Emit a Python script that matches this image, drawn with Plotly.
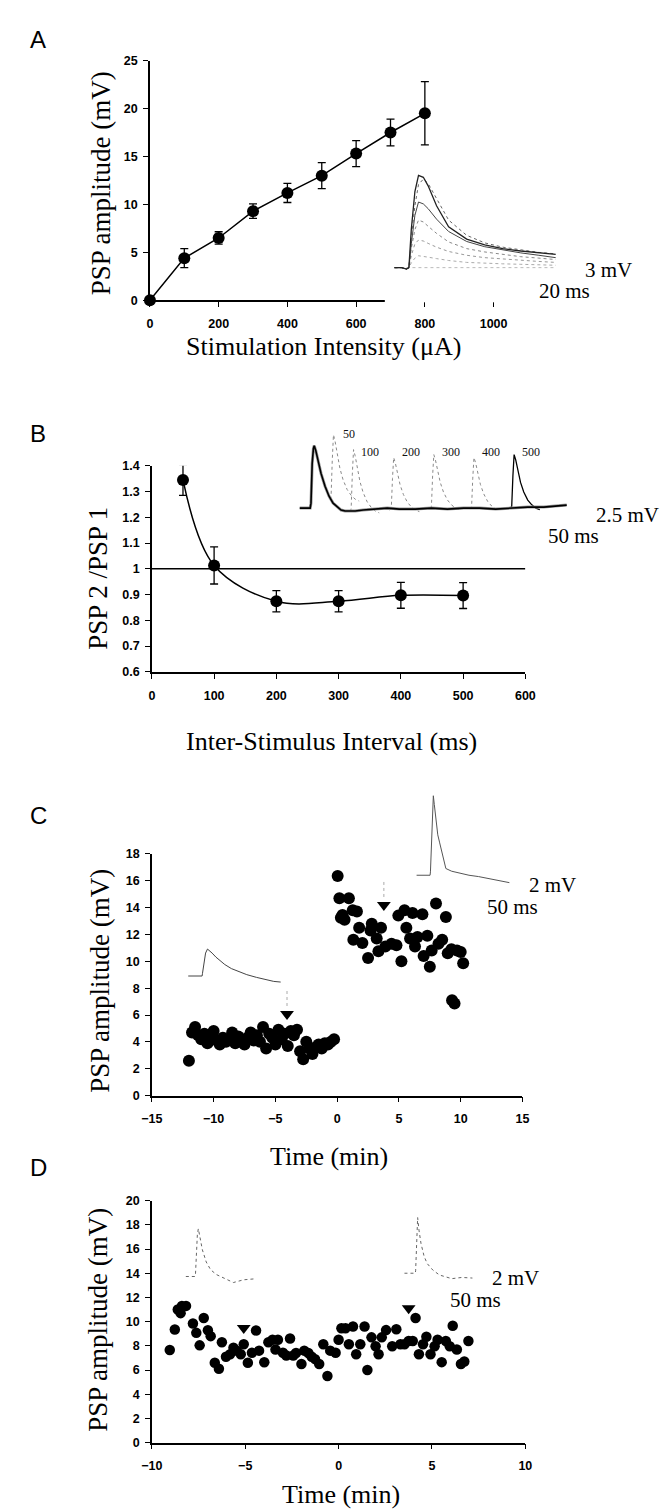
import plotly.graph_objects as go

W, H = 670, 1509

# ---------------- Panel A data ----------------
stim_uA = [0, 100, 200, 300, 400, 500, 600, 700, 800]
psp_amp_mV = [0.0, 4.4, 6.5, 9.3, 11.2, 13.0, 15.3, 17.5, 19.5]
psp_amp_err = [0.0, 1.0, 0.65, 0.75, 1.0, 1.35, 1.35, 1.4, 3.3]
a_ticks_x = [0, 200, 400, 600, 800, 1000]
a_ticks_y = [0, 5, 10, 15, 20, 25]

# inset A: PSP traces (ms, mV)
a_trace_t = [0, 6, 10, 12, 14, 17, 20, 24, 28, 35, 45, 60, 75, 90, 105, 120, 134]
a_trace_1 = [0, 0, -0.3, 0, 8, 16, 19.4, 19.0, 17.2, 13.0, 8.6, 6.0, 4.8, 4.0, 3.5, 3.1, 2.8]
a_trace_2 = [0, 0, -0.3, 0, 6, 13, 17.5, 18.6, 17.7, 14.5, 10.0, 6.8, 5.2, 4.3, 3.7, 3.2, 2.9]
a_trace_3 = [0, 0, -0.3, 0, 5, 11, 13.8, 13.4, 12.4, 10.2, 7.6, 5.5, 4.4, 3.7, 3.1, 2.6, 2.1]
a_trace_4 = [0, 0, -0.3, 0, 4, 8, 10.0, 9.6, 8.7, 7.2, 5.4, 4.0, 3.3, 2.8, 2.3, 2.0, 1.7]
a_trace_5 = [0, 0, -0.3, 0, 2.5, 5, 5.8, 5.6, 5.1, 4.3, 3.4, 2.6, 2.1, 1.8, 1.5, 1.3, 1.1]
a_trace_6 = [0, 0, -0.3, 0, 1, 2, 2.5, 2.4, 2.2, 1.9, 1.5, 1.1, 0.9, 0.8, 0.7, 0.6, 0.5]
a_trace_7 = [0, 0, 0, 0, 0, 0, 0, 0, 0, 0, 0, 0, 0, 0, 0, 0, 0]

# ---------------- Panel B data ----------------
isi_ms = [50, 100, 200, 300, 400, 500]
ratio = [1.345, 1.013, 0.874, 0.874, 0.897, 0.896]
ratio_err = [0.06, 0.072, 0.041, 0.041, 0.05, 0.05]
b_ticks_x = [0, 100, 200, 300, 400, 500, 600]
b_ticks_y = [0.6, 0.7, 0.8, 0.9, 1.0, 1.1, 1.2, 1.3, 1.4]
b_tick_text = ["0.6", "0.7", "0.8", "0.9", "1", "1.1", "1.2", "1.3", "1.4"]
ref_line_x = [0, 600]
ref_line_y = [1, 1]

# inset B: paired-pulse traces (ms, mV)
pp_first_t = [-28, -2, 0, 3, 6, 8, 12, 18, 25, 35, 45, 55, 65, 75, 85, 95, 110, 130, 160, 190,
              220, 260, 300, 340, 380, 420, 460, 500, 540, 580, 620, 637]
pp_first_v = [0, 0, 0.5, 4.5, 6.0, 6.3, 5.8, 4.7, 3.5, 2.2, 1.2, 0.5, 0.1, -0.2, -0.3, -0.3,
              -0.3, -0.2, -0.1, 0.0, -0.1, -0.1, 0.0, -0.1, 0.0, 0.0, -0.1, 0.0, 0.1, 0.1, 0.2, 0.3]
pp_isi_ms = [50, 100, 200, 300, 400, 500]
pp_isi_label = ["50", "100", "200", "300", "400", "500"]
pp_peak_mV = [7.4, 5.9, 5.1, 5.4, 5.1, 5.4]
pp_base_mV = [0.9, -0.3, -0.2, 0.0, -0.1, 0.0]
psp_shape_dt = [-4, 0, 3, 6, 10, 15, 22, 30, 40, 50, 60, 70]
psp_shape_norm = [0, 0.03, 0.6, 1.0, 0.9, 0.7, 0.48, 0.3, 0.15, 0.06, 0.0, -0.03]

# ---------------- Panel C data ----------------
c_pre_min = [-12.0, -11.75, -11.5, -11.25, -11.0, -10.75, -10.5, -10.25, -10.0, -9.75, -9.5,
             -9.25, -9.0, -8.75, -8.5, -8.25, -8.0, -7.75, -7.5, -7.25, -7.0, -6.75, -6.5,
             -6.25, -6.0, -5.75, -5.5, -5.25, -5.0, -4.75, -4.5, -4.25, -4.0, -3.75, -3.5,
             -3.25, -3.0, -2.75, -2.5, -2.25, -2.0, -1.75, -1.5, -1.25, -1.0, -0.75, -0.5, -0.25]
c_pre_mV = [2.6, 4.7, 5.1, 4.5, 4.2, 4.6, 3.9, 4.4, 4.8, 4.1, 3.8, 4.3, 4.0, 4.2, 4.7, 3.9,
            4.4, 4.0, 3.8, 4.3, 4.7, 4.1, 4.5, 4.0, 5.1, 3.5, 4.6, 4.3, 3.8, 4.9, 4.2, 4.6,
            3.7, 4.8, 4.5, 4.9, 3.3, 2.7, 4.0, 3.5, 3.1, 3.6, 3.8, 3.5, 3.9, 3.8, 4.0, 4.2]
c_post_min = [0.04, 0.18, 0.3, 0.43, 0.6, 0.95, 1.26, 1.31, 1.6, 1.78, 2.04, 2.5, 2.7, 2.8,
              3.2, 3.34, 3.55, 3.9, 4.4, 4.8, 4.95, 5.2, 5.45, 5.6, 5.9, 6.1, 6.3, 6.5, 6.9,
              7.0, 7.3, 7.5, 7.65, 8.0, 8.2, 8.5, 8.8, 8.95, 9.25, 9.3, 9.5, 9.7, 10.0, 10.2]
c_post_mV = [16.35, 14.7, 13.25, 13.45, 13.1, 14.7, 13.8, 11.6, 13.7, 12.5, 11.36, 10.25, 12.3,
             12.8, 11.7, 10.75, 12.5, 11.1, 11.3, 11.2, 13.4, 10.0, 13.8, 12.5, 11.7, 13.6, 11.1,
             11.8, 13.5, 10.4, 11.9, 9.6, 10.8, 14.3, 11.3, 11.6, 13.3, 10.6, 10.9, 7.1, 6.85,
             10.8, 10.7, 9.85]
c_arrow_min = [-4.06, 3.78]
c_arrow_mV = [6.07, 14.19]
c_ticks_x = [-15, -10, -5, 0, 5, 10, 15]
c_ticks_y = [0, 2, 4, 6, 8, 10, 12, 14, 16, 18]

# inset C traces (ms, mV)
c1_t = [-37, -1, 0, 4, 8, 13, 18, 25, 35, 45, 58, 75, 95, 115, 140, 166, 185, 203]
c1_v = [0, 0, 0.4, 2.0, 3.4, 4.0, 3.8, 3.4, 2.8, 2.3, 1.7, 1.1, 0.6, 0.2, -0.2, -0.6, -0.8, -0.9]
c2_t = [-36, -1, 0, 3, 6, 7.5, 10, 14, 19, 24, 30, 40, 55, 75, 100, 125, 150, 175, 205]
c2_v = [0, 0, 0.5, 5, 10, 11.8, 10.5, 8, 6, 4.8, 3.2, 1.0, 0.6, 0.3, 0, -0.2, -0.5, -0.8, -1.1]

# ---------------- Panel D data ----------------
d_min = [-9.04, -8.77, -8.61, -8.46, -8.39, -8.17, -7.8, -7.62, -7.44, -7.22, -7.0, -6.85,
         -6.63, -6.41, -6.25, -6.03, -5.81, -5.63, -5.46, -5.24, -5.08, -4.86, -4.64, -4.42,
         -4.26, -3.98, -3.76, -3.54, -3.38, -3.25, -2.98, -2.8, -2.6, -2.43, -2.28, -1.99,
         -1.84, -1.62, -1.44, -1.26, -1.04, -0.82, -0.6, -0.45, -0.16, 0.0, 0.15, 0.37, 0.55,
         0.77, 0.94, 1.16, 1.39, 1.54, 1.76, 1.98, 2.14, 2.31, 2.54, 2.87, 3.09, 3.31, 3.53,
         3.75, 3.97, 4.12, 4.3, 4.52, 4.7, 4.92, 5.14, 5.3, 5.52, 5.74, 5.95, 6.11, 6.33,
         6.55, 6.73, 6.95]
d_mV = [7.65, 9.35, 11.0, 10.7, 11.3, 11.3, 9.84, 9.07, 8.04, 10.3, 9.29, 8.8, 6.6, 6.1, 8.3,
        7.1, 7.3, 7.85, 7.6, 7.3, 8.13, 6.6, 7.43, 9.27, 7.6, 6.64, 8.3, 8.5, 7.7, 8.5, 7.43,
        7.2, 8.6, 7.2, 7.4, 6.5, 7.6, 7.4, 7.1, 6.9, 6.5, 8.13, 5.5, 7.6, 7.43, 8.5, 9.45,
        9.45, 8.13, 9.6, 7.3, 8.13, 9.6, 6.0, 8.7, 7.97, 7.3, 8.7, 9.3, 7.97, 9.37, 8.13, 8.13,
        8.4, 8.4, 10.3, 7.3, 8.13, 8.75, 7.3, 7.97, 8.5, 6.65, 8.4, 7.97, 9.66, 7.7, 6.5, 6.7, 8.4]
d_arrow_min = [-5.08, 3.75]
d_arrow_mV = [9.48, 11.1]
d_ticks_x = [-10, -5, 0, 5, 10]
d_ticks_y = [0, 2, 4, 6, 8, 10, 12, 14, 16, 18, 20]

# inset D traces (ms, mV)
d1_t = [-25, -1, 0, 3, 5, 7.5, 11, 18, 28, 39.5, 55, 77, 98.5, 125, 152]
d1_v = [0, 0, 0.3, 4.5, 7.0, 7.9, 6.5, 4.4, 2.4, 1.1, 0.3, -0.3, -1.0, -0.55, -0.4]
d2_t = [-29, -1, 0, 2, 4, 5.25, 9, 14, 22, 30, 45, 62, 94, 120, 147.5]
d2_v = [0, 0, 0.4, 5.0, 8.3, 9.2, 7.0, 4.9, 2.8, 1.6, 0.5, -0.3, -0.9, -0.7, -0.8]

SERIF = "Liberation Serif, Times New Roman, serif"
SANS = "Liberation Sans, Arial, sans-serif"

fig = go.Figure()
layout = {}


def dom_x(x0, x1):
    return [x0 / W, x1 / W]


def dom_y(y_top, y_bot):
    return [1 - y_bot / H, 1 - y_top / H]


n_axes = [0]


def new_axes(xcfg, ycfg):
    n_axes[0] += 1
    k = n_axes[0]
    sfx = "" if k == 1 else str(k)
    xcfg = dict(xcfg, anchor="y" + sfx)
    ycfg = dict(ycfg, anchor="x" + sfx)
    layout["xaxis" + sfx] = xcfg
    layout["yaxis" + sfx] = ycfg
    return "x" + sfx, "y" + sfx


def main_axes(box, xr, yr, xt, yt, yt_text=None):
    x0, x1, y0, y1 = box
    common = dict(showline=True, linecolor="black", linewidth=1.5, ticks="outside",
                  ticklen=5, tickwidth=1.2, tickcolor="black", showgrid=False,
                  zeroline=False, fixedrange=True,
                  tickfont=dict(family=SANS, size=12.5, color="black", weight="bold"))
    xc = dict(common, domain=dom_x(x0, x1), range=xr, tickvals=xt, ticklabelstandoff=6)
    yc = dict(common, domain=dom_y(y0, y1), range=yr, tickvals=yt, ticklabelstandoff=3)
    if yt_text is not None:
        yc["ticktext"] = yt_text
    return new_axes(xc, yc)


def inset_axes(origin, scale, box):
    ox, oy = origin
    sx, sy = scale
    x0, x1, y0, y1 = box
    hid = dict(visible=False, showgrid=False, zeroline=False, fixedrange=True)
    xc = dict(hid, domain=dom_x(x0, x1), range=[(x0 - ox) / sx, (x1 - ox) / sx])
    yc = dict(hid, domain=dom_y(y0, y1), range=[(oy - y1) / sy, (oy - y0) / sy])
    return new_axes(xc, yc)


def line(xa, ya, x, y, color="black", width=1.0, dash="solid"):
    fig.add_trace(go.Scatter(x=x, y=y, xaxis=xa, yaxis=ya, mode="lines",
                             line=dict(color=color, width=width, dash=dash),
                             hoverinfo="skip", showlegend=False))


annotations = []


def text(px, py, s, size, family=SERIF, angle=0, xanchor="center", color="black"):
    annotations.append(dict(x=px / W, y=1 - py / H, xref="paper", yref="paper", text=s,
                            showarrow=False, textangle=angle, xanchor=xanchor,
                            yanchor="middle", font=dict(family=family, size=size, color=color)))


# ================= Panel A =================
xa, ya = main_axes((136, 493, 46, 288), [0, 1000], [0, 25], a_ticks_x, a_ticks_y)
fig.add_trace(go.Scatter(x=stim_uA, y=psp_amp_mV, xaxis=xa, yaxis=ya, mode="lines+markers",
                         line=dict(color="black", width=1.5),
                         marker=dict(color="black", size=12),
                         error_y=dict(type="data", array=psp_amp_err, color="black",
                                      thickness=1.3, width=4),
                         cliponaxis=False, showlegend=False))
ia_x, ia_y = inset_axes((390, 255), (1.25, 4.8), (380, 600, 140, 290))
a_styles = [("#222222", 1.3, "solid"), ("#666666", 1.0, "dot"), ("#444444", 1.0, "solid"),
            ("#888888", 1.0, "dot"), ("#999999", 1.0, "dot"), ("#aaaaaa", 1.0, "dot"),
            ("#bbbbbb", 1.0, "dot")]
for tr, st in zip([a_trace_7, a_trace_6, a_trace_5, a_trace_4, a_trace_3, a_trace_2, a_trace_1],
                  a_styles[::-1]):
    line(ia_x, ia_y, a_trace_t, tr, color=st[0], width=st[1], dash=st[2])

# ================= Panel B =================
xb, yb = main_axes((138, 526, 455, 663), [0, 600], [0.6, 1.4], b_ticks_x, b_ticks_y, b_tick_text)
line(xb, yb, ref_line_x, ref_line_y, width=1.5)
fig.add_trace(go.Scatter(x=isi_ms, y=ratio, xaxis=xb, yaxis=yb, mode="lines",
                         line=dict(color="black", width=1.5, shape="spline", smoothing=1.0),
                         hoverinfo="skip", showlegend=False))
fig.add_trace(go.Scatter(x=isi_ms, y=ratio, xaxis=xb, yaxis=yb, mode="markers",
                         marker=dict(color="black", size=12),
                         error_y=dict(type="data", array=ratio_err, color="black",
                                      thickness=1.3, width=4),
                         cliponaxis=False, showlegend=False))
ib_x, ib_y = inset_axes((303.3, 497.7), (0.417, 10.0), (285, 575, 410, 520))
for isi, pk, base, lab in zip(pp_isi_ms, pp_peak_mV, pp_base_mV, pp_isi_label):
    t = [isi + d for d in psp_shape_dt]
    v = [base + (pk - base) * s for s in psp_shape_norm]
    if isi == 500:
        line(ib_x, ib_y, t, v, color="black", width=1.3)
    else:
        line(ib_x, ib_y, t, v, color="#8a8a8a", width=1.0, dash="dot")
line(ib_x, ib_y, pp_first_t, pp_first_v, color="#999999", width=3.0)
line(ib_x, ib_y, pp_first_t, pp_first_v, color="black", width=1.6)

# ================= Panel C =================
xc_, yc_ = main_axes((138, 523, 846.7, 1090.7), [-15, 15], [0, 18], c_ticks_x, c_ticks_y)
fig.add_trace(go.Scatter(x=c_pre_min + c_post_min, y=c_pre_mV + c_post_mV, xaxis=xc_, yaxis=yc_,
                         mode="markers", marker=dict(color="black", size=12),
                         cliponaxis=False, showlegend=False))
fig.add_trace(go.Scatter(x=c_arrow_min, y=c_arrow_mV, xaxis=xc_, yaxis=yc_, mode="markers",
                         marker=dict(color="black", size=12, symbol="triangle-down"),
                         showlegend=False))
for xm, ym in zip(c_arrow_min, c_arrow_mV):
    line(xc_, yc_, [xm, xm], [ym + 0.6, ym + 1.8], color="#aaaaaa", width=1, dash="dot")
ic1_x, ic1_y = inset_axes((190.6, 970), (0.4, 6.8), (170, 280, 930, 985))
line(ic1_x, ic1_y, c1_t, c1_v, color="#444444", width=1.0)
ic2_x, ic2_y = inset_axes((427.4, 868.3), (0.4, 6.8), (405, 515, 780, 885))
line(ic2_x, ic2_y, c2_t, c2_v, color="#555555", width=1.0)

# ================= Panel D =================
xd, yd = main_axes((138, 526, 1196.7, 1441), [-10, 10], [0, 20], d_ticks_x, d_ticks_y)
fig.add_trace(go.Scatter(x=d_min, y=d_mV, xaxis=xd, yaxis=yd, mode="markers",
                         marker=dict(color="black", size=10.5), cliponaxis=False,
                         showlegend=False))
fig.add_trace(go.Scatter(x=d_arrow_min, y=d_arrow_mV, xaxis=xd, yaxis=yd, mode="markers",
                         marker=dict(color="black", size=12, symbol="triangle-down"),
                         showlegend=False))
id1_x, id1_y = inset_axes((183.3, 1273.3), (0.4, 6.1), (168, 250, 1215, 1290))
line(id1_x, id1_y, d1_t, d1_v, color="#666666", width=1.0, dash="dot")
id2_x, id2_y = inset_axes((412, 1270), (0.4, 6.1), (395, 478, 1205, 1285))
line(id2_x, id2_y, d2_t, d2_v, color="#666666", width=1.0, dash="dot")

# ================= Text =================
for lab, y in zip(["A", "B", "C", "D"], [25, 422, 808, 1163]):
    text(20, y, lab, 24, family=SANS)

text(86, 170, "PSP amplitude (mV)", 27, angle=-90)
text(316, 335, "Stimulation Intensity (\u03bcA)", 26)
text(82, 568, "PSP 2 /PSP 1", 27, angle=-90)
text(325, 733, "Inter-Stimulus Interval (ms)", 26)
text(84, 975, "PSP amplitude (mV)", 27, angle=-90)
text(322, 1152, "Time (min)", 26)
text(82, 1317, "PSP amplitude (mV)", 27, angle=-90)
text(334, 1493, "Time (min)", 26)

text(612, 257, "3 mV", 21)
text(567, 279, "20 ms", 21)
text(632, 505, "2.5 mV", 21)
text(576, 526, "50 ms", 21)
text(554, 878, "2 mV", 21)
text(513, 900, "50 ms", 21)
text(516, 1275, "2 mV", 21)
text(474, 1297, "50 ms", 21)

for isi, pk, lab in zip(pp_isi_ms, pp_peak_mV, pp_isi_label):
    lx = 303.3 + (isi + 36 + 4 * len(lab)) * 0.417
    ly = 423 if isi == 50 else 441
    text(lx, ly, lab, 12, color="#111111")

layout.update(dict(width=W, height=H, margin=dict(l=0, r=0, t=0, b=0),
                   paper_bgcolor="white", plot_bgcolor="white", showlegend=False,
                   annotations=annotations))
fig.update_layout(**layout)
fig.write_html("out.html")
